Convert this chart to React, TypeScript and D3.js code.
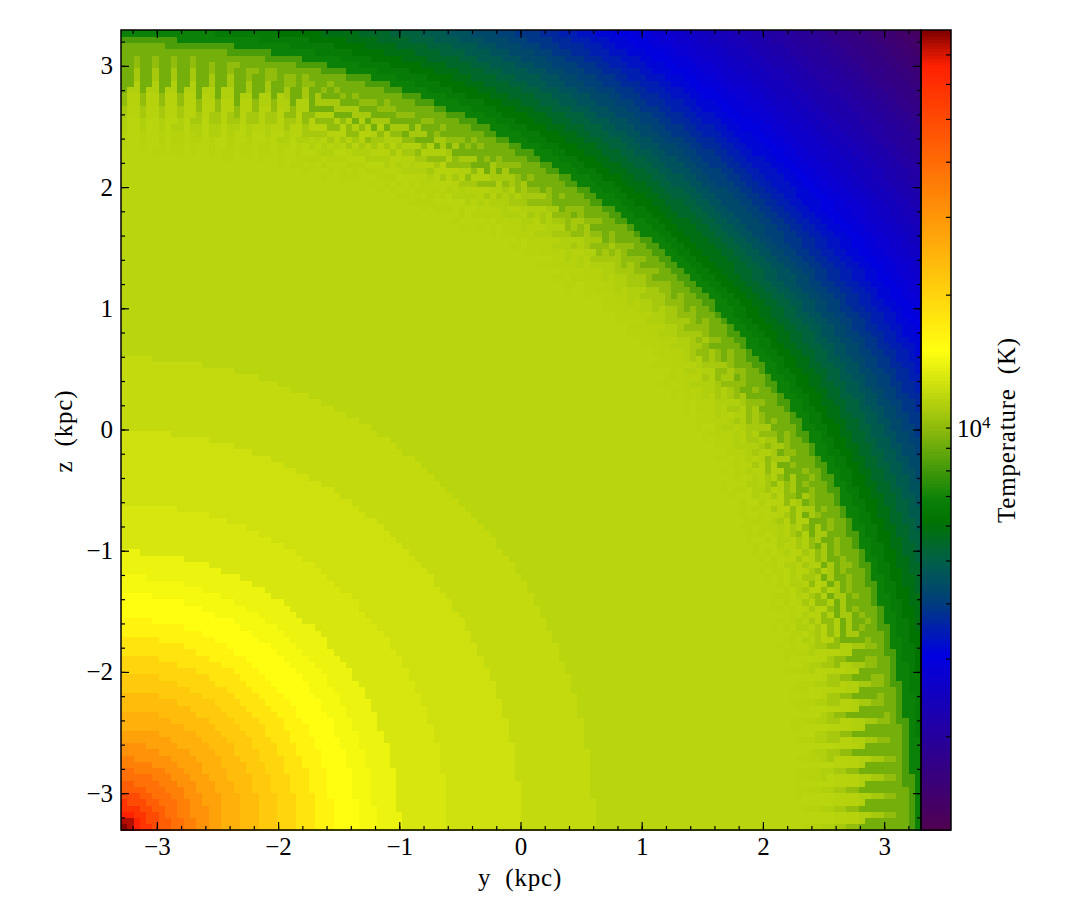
import React from "react";
import * as d3 from "d3";

// temperature shells: outer radius (kpc, from the lower left corner) and T (K)
const shellOuter = [
  0.06, 0.11, 0.17, 0.24, 0.32, 0.4, 0.5, 0.6, 0.72, 0.85, 1.0, 1.15, 1.3, 1.45, 1.6, 1.75, 1.95, 2.1, 2.3, 2.7, 3.3, 3.9,
  5.8, 5.9, 6.0, 6.1, 6.2, 6.3, 6.4, 6.48, 6.54,
  6.62, 6.7, 6.78, 6.86, 6.94, 7.02, 7.1, 7.18, 7.26, 7.34, 7.42, 7.5, 7.58, 7.66, 7.74, 7.82, 7.9, 7.98, 8.06, 8.14,
  8.22, 8.3, 8.38, 8.46, 8.54, 8.62, 8.7, 8.78, 8.86, 8.94, 9.02, 9.1, 9.18, 9.26, 9.4,
];
const shellTemp = [
  79000, 74000, 66000, 58000, 50000, 44000, 39000, 35000, 31000, 28000, 25500, 23500, 21500, 19800, 18000, 16300, 15200,
  14500, 14000, 13000, 12600, 12100,
  11700, 11700, 11600, 11500, 11300, 10900, 10200, 9300, 8300,
  6900, 6600, 6200, 5850, 5500, 5180, 4880, 4600, 4330, 4100, 3900, 3700, 3510, 3330, 3160, 3020, 2890, 2780, 2670, 2560,
  2460, 2360, 2265, 2175, 2090, 2005, 1925, 1850, 1775, 1705, 1635, 1570, 1510, 1450, 1390,
];
// how far the fan of streaks behind the front reaches, per 10 degree sector
const streakReach = [0.32, 0.26, 0.2, 0.12, 0.06, 0.12, 0.2, 0.26, 0.32];

const xTicks = [-3, -2, -1, 0, 1, 2, 3];
const yTicks = [-3, -2, -1, 0, 1, 2, 3];
const minorStep = 0.2;
const barMinorTicks = [2000, 3000, 4000, 5000, 6000, 7000, 8000, 9000, 20000, 30000, 40000, 50000, 60000, 70000];
const barMajorTick = 10000;
// colour bar stops as a fraction of its height, from the bottom
const colorStops = [0, 0.219, 0.2875, 0.3375, 0.3875, 0.4125, 0.5025, 0.6, 0.956, 1];
const colorValues = ["#500050", "#0000e0", "#004078", "#006048", "#007400", "#0a8008", "#8eba0c", "#ffff10", "#ff2000", "#7f0000"];

const W = 1085;
const H = 920;
const left = 121;
const right = 921;
const top = 30;
const bottom = 830;
const barRight = 951;
const nCells = 128;
const front = 6.48;
const streakStart = 5.6;
const serif = "'Liberation Serif', serif";

const x = d3.scaleLinear().domain([-3.3, 3.3]).range([left, right]);
const y = d3.scaleLinear().domain([-3.3, 3.3]).range([bottom, top]);
const tScale = d3.scaleLog().domain([1230, 79700]).range([0, 1]);
const barY = d3.scaleLog().domain([1230, 79700]).range([bottom, top]);
const cmap = d3.scaleLinear<string>().domain(colorStops).range(colorValues).interpolate(d3.interpolateRgb).clamp(true);

const cellSize = 6.6 / nCells;

const cellColor = (i: number, j: number) => {
  const dx = (i + 0.5) * cellSize;
  const dz = (j + 0.5) * cellSize;
  const r = Math.hypot(dx, dz);
  const angle = (Math.atan2(dz, dx) * 180) / Math.PI;
  const ray = Math.floor(angle / 0.72);
  const ring = Math.floor(r / cellSize);
  const nearAxis = angle < 15 || angle > 75;
  const reach = streakReach[Math.min(8, Math.floor(angle / 10))];
  const dark = nearAxis ? ray % 2 === 0 : (ray + ring) % 2 === 0;
  let rr = r;
  if (r < front && r > streakStart) rr = Math.min(front - 0.01, r + (dark ? reach : 0));
  const k = Math.min(shellOuter.length - 1, d3.bisectLeft(shellOuter, rr));
  return cmap(tScale(shellTemp[k]));
};

const minor = (lo: number, hi: number) => d3.range(Math.ceil(lo / minorStep), Math.floor(hi / minorStep) + 1).map((d) => d * minorStep);
const minorTicks = minor(-3.3, 3.3);
const cells = d3.range(nCells).flatMap((i) => d3.range(nCells).map((j) => ({ i, j })));
const barRows = d3.range(256);

export default function App() {
  const cw = (right - left) / nCells;
  return (
    <svg width={W} height={H} style={{ position: "absolute", left: 0, top: 0, display: "block" }} fontFamily={serif} fill="#000">
      <g shapeRendering="crispEdges">
        {cells.map(({ i, j }) => (
          <rect key={i + "-" + j} x={left + i * cw} y={bottom - (j + 1) * cw} width={cw + 0.5} height={cw + 0.5} fill={cellColor(i, j)} />
        ))}
        {barRows.map((d) => (
          <rect key={d} x={right} y={bottom - ((d + 1) * 800) / 256} width={barRight - right} height={800 / 256 + 0.5} fill={cmap((d + 0.5) / 256)} />
        ))}
      </g>

      <g stroke="#000" strokeWidth={1.2}>
        {minorTicks.map((d) => (
          <g key={d}>
            <line x1={x(d)} x2={x(d)} y1={bottom} y2={bottom - 4} />
            <line x1={x(d)} x2={x(d)} y1={top} y2={top + 4} />
            <line x1={left} x2={left + 4} y1={y(d)} y2={y(d)} />
            <line x1={right} x2={right - 4} y1={y(d)} y2={y(d)} />
          </g>
        ))}
        {xTicks.map((d) => (
          <g key={d}>
            <line x1={x(d)} x2={x(d)} y1={bottom} y2={bottom - 8} />
            <line x1={x(d)} x2={x(d)} y1={top} y2={top + 8} />
          </g>
        ))}
        {yTicks.map((d) => (
          <g key={d}>
            <line x1={left} x2={left + 8} y1={y(d)} y2={y(d)} />
            <line x1={right} x2={right - 8} y1={y(d)} y2={y(d)} />
          </g>
        ))}
        {barMinorTicks.map((d) => (
          <line key={d} x1={barRight} x2={barRight - 5} y1={barY(d)} y2={barY(d)} />
        ))}
        <line x1={barRight} x2={barRight - 5} y1={barY(barMajorTick)} y2={barY(barMajorTick)} />
      </g>

      <rect x={left} y={top} width={right - left} height={bottom - top} fill="none" stroke="#000" strokeWidth={1.5} />
      <rect x={right} y={top} width={barRight - right} height={bottom - top} fill="none" stroke="#000" strokeWidth={1.5} />

      <g fontSize={25}>
        {xTicks.map((d) => (
          <text key={d} x={x(d)} y={855} textAnchor="middle">
            {d3.format("d")(d).replace("-", "\u2212")}
          </text>
        ))}
        {yTicks.map((d) => (
          <text key={d} x={113} y={y(d) + 8} textAnchor="end">
            {d3.format("d")(d).replace("-", "\u2212")}
          </text>
        ))}
        <text x={957} y={barY(barMajorTick) + 9}>
          10
          <tspan dy={-9} fontSize={17}>
            4
          </tspan>
        </text>
        <g letterSpacing={0.8}>
          <text x={520} y={886} textAnchor="middle" xmlSpace="preserve">
            y  (kpc)
          </text>
          <text transform={`translate(72,431) rotate(-90)`} textAnchor="middle" xmlSpace="preserve">
            z  (kpc)
          </text>
          <text transform={`translate(1015,430) rotate(-90)`} textAnchor="middle" xmlSpace="preserve">
            Temperature  (K)
          </text>
        </g>
      </g>
    </svg>
  );
}
